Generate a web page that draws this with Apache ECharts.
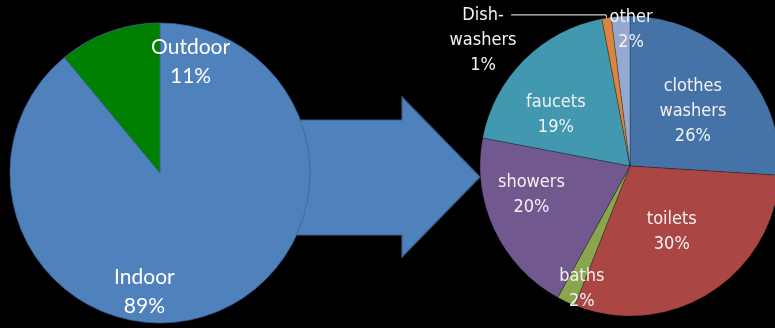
<!DOCTYPE html>
<html>
<head>
<meta charset="utf-8">
<script src="https://cdn.jsdelivr.net/npm/echarts@6/dist/echarts.min.js"></script>
<style>
  html, body { margin: 0; padding: 0; background: #000; }
  #chart { width: 775px; height: 328px; }
</style>
</head>
<body>
<div id="chart"></div>
<script>
// left pie: where the water goes
var splitNames = ['Indoor', 'Outdoor']
var splitValues = [89, 11]

// right pie: indoor uses, clockwise from 12 o'clock
var useNames = ['clothes\nwashers', 'toilets', 'baths', 'showers', 'faucets', 'Dish-\nwashers', 'other']
var useValues = [26, 30, 2, 20, 19, 1, 2]

var splitColors = ['#4f81bd', '#008000']
var useColors = ['#4572a7', '#aa4643', '#89a54e', '#71588f', '#4198af', '#db843d', '#93a9cf']

// label nudges (px) to match the original placement
var splitShift = [[-42, 45], [57, -38]]
var useShift = [[6, -1], [0, 0], [-15, 52], [-28, -4], [-19, 4], [0, 0], [6, -58]]

var narrow = '"Liberation Sans Narrow", "Arial Narrow", "DejaVu Sans Condensed", sans-serif'

var chart = echarts.init(document.getElementById('chart'))

chart.setOption({
  backgroundColor: '#000',
  animation: false,
  graphic: [{
    type: 'polygon',
    z: 0,
    shape: {
      points: [[290, 120], [402, 120], [402, 97], [480, 177], [402, 257], [402, 235], [290, 235]]
    },
    style: { fill: '#4f81bd', stroke: '#3a5f8b', lineWidth: 1.2 }
  }],
  series: [
    {
      type: 'pie',
      z: 3,
      center: [160, 173],
      radius: 150,
      startAngle: 90,
      clockwise: true,
      avoidLabelOverlap: false,
      itemStyle: { borderColor: '#3c6696', borderWidth: 0.8 },
      label: {
        position: 'inside',
        color: '#fff',
        fontFamily: 'Lato, "Open Sans", sans-serif',
        fontSize: 21,
        lineHeight: 29,
        formatter: '{b}\n{c}%'
      },
      labelLayout: function (p) {
        var s = splitShift[p.dataIndex]
        return { dx: s[0], dy: s[1] }
      },
      data: splitNames.map(function (n, i) {
        return { name: n, value: splitValues[i], itemStyle: { color: splitColors[i] } }
      })
    },
    {
      type: 'pie',
      z: 3,
      center: [630, 166],
      radius: 150,
      startAngle: 90,
      clockwise: true,
      avoidLabelOverlap: false,
      itemStyle: { borderColor: 'rgba(0,0,0,0.35)', borderWidth: 0.7 },
      label: {
        position: 'inside',
        color: '#f2f2f2',
        fontFamily: narrow,
        fontSize: 18,
        lineHeight: 25,
        formatter: '{b}\n{c}%'
      },
      labelLayout: function (p) {
        var s = useShift[p.dataIndex]
        return { dx: s[0], dy: s[1] }
      },
      data: useNames.map(function (n, i) {
        var d = { name: n, value: useValues[i], itemStyle: { color: useColors[i] } }
        if (i === 5) {
          // two blank lines on top so the leader line meets the "Dish-" row
          d.label = {
            position: 'outside',
            formatter: '{a|}\n{a|}\n{a|Dish-}\n{a|washers}\n{a|' + useValues[i] + '%}',
            rich: { a: { width: 46, align: 'center', color: '#f2f2f2', fontSize: 18, lineHeight: 25, fontFamily: narrow } }
          }
          d.labelLine = { show: true, length: 3, length2: 95, lineStyle: { color: '#fff', width: 1 } }
        }
        return d
      })
    }
  ]
})
</script>
</body>
</html>
